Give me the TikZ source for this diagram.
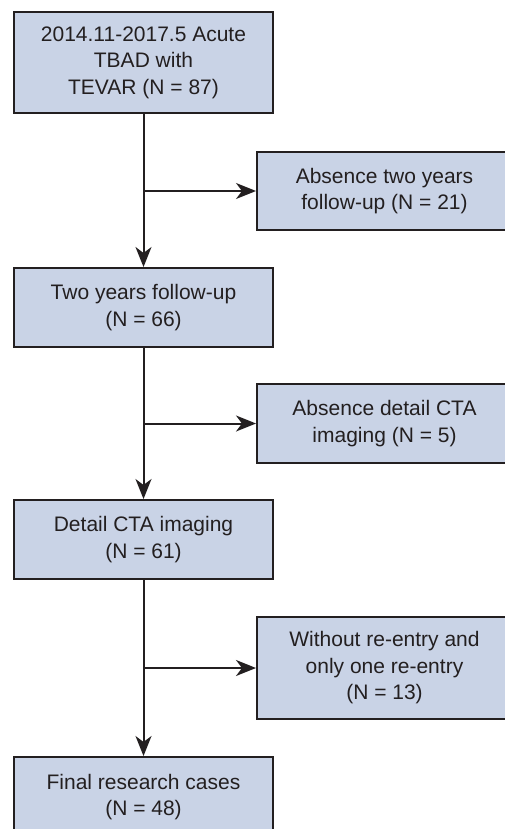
\documentclass[tikz,border=0pt]{standalone}
\usepackage{fontspec}
\setmainfont{Liberation Sans}
\usetikzlibrary{arrows.meta}
\definecolor{boxfill}{RGB}{201,211,230}
\definecolor{ink}{RGB}{35,31,32}
\begin{document}
\begin{tikzpicture}[x=1pt,y=-1pt,
  box/.style={draw=ink, fill=boxfill, line width=2pt, rectangle, align=center,
    inner sep=0pt, font=\fontsize{21}{26.5}\selectfont, text=ink},
  lbox/.style={box, minimum width=259pt},
  rbox/.style={box, minimum width=255pt},
  conn/.style={draw=ink, line width=2pt},
  arr/.style={conn, -{Stealth[length=20pt,width=16pt,inset=6pt]}}]
\useasboundingbox (0,0) rectangle (505,829);
\fill[white] (0,0) rectangle (505,829);
\node[lbox, minimum height=101pt] (A) at (143.5,62.5) {2014.11-2017.5 Acute\\TBAD with\\TEVAR (N = 87)};
\node[rbox, minimum height=78pt] (B) at (384.5,191) {Absence two years\\follow-up (N = 21)};
\node[lbox, minimum height=79pt] (C) at (143.5,307.5) {Two years follow-up\\(N = 66)};
\node[rbox, minimum height=79pt] (D) at (384.5,423.5) {Absence detail CTA\\imaging (N = 5)};
\node[lbox, minimum height=79pt] (E) at (143.5,539.5) {Detail CTA imaging\\(N = 61)};
\node[rbox, minimum height=102pt] (F) at (384.5,668) {Without re-entry and\\only one re-entry\\(N = 13)};
\node[lbox, minimum height=80pt] (G) at (143.5,797) {Final research cases\\(N = 48)};
\coordinate (jb) at (A.south |- B.west);
\coordinate (jd) at (C.south |- D.west);
\coordinate (jf) at (E.south |- F.west);
\draw[arr] (A.south) -- (C.north);
\draw[arr] (jb) -- (B.west);
\draw[arr] (C.south) -- (E.north);
\draw[arr] (jd) -- (D.west);
\draw[arr] (E.south) -- (G.north);
\draw[arr] (jf) -- (F.west);
\end{tikzpicture}
\end{document}
